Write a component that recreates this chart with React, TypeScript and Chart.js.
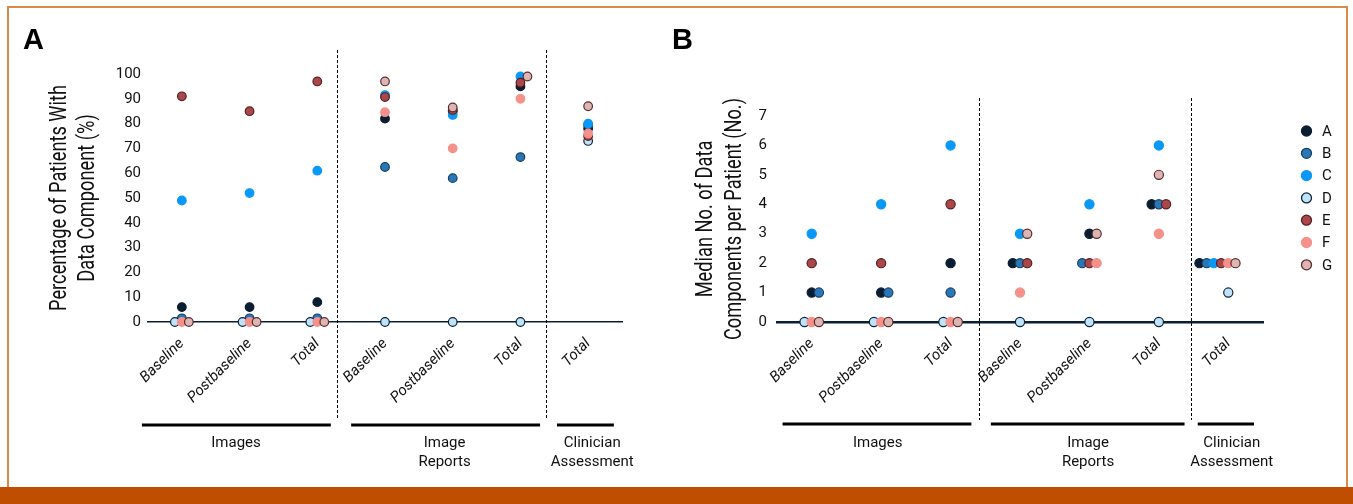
import React, { useEffect, useRef } from "react";
import { Chart, registerables } from "chart.js";

Chart.register(...registerables);

// ---------- data ----------
const categories = ["Baseline", "Postbaseline", "Total", "Baseline", "Postbaseline", "Total", "Total"];
const seriesNames = ["A", "B", "C", "D", "E", "F", "G"];

// Panel A: percentage of patients with data component (%)
const percentA = [6, 6, 8, 82, 85, 95, 78];
const percentB = [1.5, 1.5, 1.5, 62.5, 58, 66.5, 79.5];
const percentC = [49, 52, 61, 91.5, 83.5, 99, 80];
const percentD = [0, 0, 0, 0, 0, 0, 73];
const percentE = [91, 85, 97, 90.7, 85.5, 96.5, 75];
const percentF = [0, 0, 0, 84.6, 70, 90, 76];
const percentG = [0, 0, 0, 97, 86.5, 99, 87];

// Panel B: median number of data components per patient
const medianA = [1, 1, 2, 2, 3, 4, 2];
const medianB = [1, 1, 1, 2, 2, 4, 2];
const medianC = [3, 4, 6, 3, 4, 6, 2];
const medianD = [0, 0, 0, 0, 0, 0, 1];
const medianE = [2, 2, 4, 2, 2, 4, 2];
const medianF = [0, 0, 0, 1, 2, 3, 2];
const medianG = [0, 0, 0, 3, 3, 5, 2];

const percentTicks = [0, 10, 20, 30, 40, 50, 60, 70, 80, 90, 100];
const medianTicks = [0, 1, 2, 3, 4, 5, 6, 7];

const groupLabels = [["Images"], ["Image", "Reports"], ["Clinician", "Assessment"]];
const yTitleA = ["Percentage of Patients With", "Data Component (%)"];
const yTitleB = ["Median No. of Data", "Components per Patient (No.)"];

// ---------- styles ----------
const fills = ["#0A1D31", "#2A77B5", "#0A98F7", "#BFE4FA", "#A9474A", "#F6908A", "#DDB6B3"];
const borders = ["#0A1D31", "#17406A", "#0A98F7", "#0D2338", "#5A1E22", "#F6908A", "#5C2B2D"];
const FONT = "Roboto, 'Liberation Sans', Arial, sans-serif";

// dodge points sharing the same value within a category
const dodgePlugin = {
  id: "dodge",
  afterDatasetsUpdate(chart: any, _args: any, opts: any) {
    const spacing = opts.spacing ?? 7;
    const n = chart.data.labels.length;
    for (let i = 0; i < n; i++) {
      const clusters = new Map<number, number[]>();
      chart.data.datasets.forEach((ds: any, di: number) => {
        const v = ds.data[i];
        if (!clusters.has(v)) clusters.set(v, []);
        clusters.get(v)!.push(di);
      });
      clusters.forEach((members) => {
        const m = members.length;
        if (m < 2) return;
        members.forEach((di, k) => {
          const el = chart.getDatasetMeta(di).data[i];
          if (el) el.x += (k - (m - 2)) * spacing;
        });
      });
    }
  },
};

const decorPlugin = {
  id: "decor",
  beforeDatasetsDraw(chart: any, _args: any, o: any) {
    const { ctx, chartArea, scales } = chart;
    const x = scales.x;
    const p0 = x.getPixelForValue(0);
    const step = x.getPixelForValue(1) - p0;
    const px = (u: number) => p0 + u * step;
    ctx.save();
    // panel letter
    ctx.fillStyle = "#000";
    ctx.font = `bold 29px 'Liberation Sans', Arial, sans-serif`;
    ctx.textAlign = "left";
    ctx.textBaseline = "alphabetic";
    ctx.fillText(o.letter, o.letterX, o.letterY);
    // y title (condensed face emulated by horizontal scaling along the text)
    ctx.font = `${o.titleSize}px ${FONT}`;
    ctx.fillStyle = "#111";
    const cy = (chartArea.top + chartArea.bottom) / 2;
    o.title.forEach((line: string, k: number) => {
      ctx.save();
      ctx.translate(o.titleX[k], cy);
      ctx.rotate(-Math.PI / 2);
      ctx.scale(o.titleSqueeze, 1);
      ctx.textAlign = "center";
      ctx.textBaseline = "alphabetic";
      ctx.fillText(line, 0, 0);
      ctx.restore();
    });
    // dashed dividers
    ctx.strokeStyle = "#000";
    ctx.lineWidth = 1;
    ctx.setLineDash([3, 2]);
    o.dividers.forEach((u: number) => {
      const xx = Math.round(px(u)) + 0.5;
      ctx.beginPath();
      ctx.moveTo(xx, o.dashTop);
      ctx.lineTo(xx, o.dashBottom);
      ctx.stroke();
    });
    ctx.setLineDash([]);
    // group brackets
    ctx.lineWidth = 3;
    o.brackets.forEach((b: number[]) => {
      ctx.beginPath();
      ctx.moveTo(px(b[0]), o.bracketY);
      ctx.lineTo(px(b[1]), o.bracketY);
      ctx.stroke();
    });
    ctx.font = `15px ${FONT}`;
    ctx.fillStyle = "#111";
    ctx.textAlign = "center";
    groupLabels.forEach((lines, g) => {
      lines.forEach((line, k) => {
        ctx.fillText(line, px(o.labelCenters[g]), o.labelY[k]);
      });
    });
    // legend
    if (o.legend) {
      const L = o.legend;
      chart.data.datasets.forEach((ds: any, i: number) => {
        const yy = L.y0 + i * L.step;
        ctx.beginPath();
        ctx.arc(L.x, yy, L.r, 0, Math.PI * 2);
        ctx.fillStyle = ds.pointBackgroundColor;
        ctx.fill();
        ctx.lineWidth = 1.3;
        ctx.strokeStyle = ds.pointBorderColor;
        ctx.stroke();
        ctx.fillStyle = "#111";
        ctx.font = `15px ${FONT}`;
        ctx.textAlign = "left";
        ctx.textBaseline = "middle";
        ctx.fillText(ds.label, L.labelX, yy + 1);
      });
    }
    ctx.restore();
  },
};

function buildConfig(p: any) {
  return {
    type: "line",
    data: {
      labels: categories,
      datasets: seriesNames.map((name, i) => ({
        label: name,
        data: p.values[i],
        showLine: false,
        pointRadius: p.radius,
        pointHoverRadius: p.radius,
        pointBorderWidth: 1.2,
        pointBackgroundColor: fills[i],
        pointBorderColor: borders[i],
        order: seriesNames.length - i,
        clip: false,
      })),
    },
    options: {
      animation: false,
      responsive: false,
      events: [],
      layout: { padding: p.padding },
      plugins: {
        legend: { display: false },
        tooltip: { enabled: false },
        dodge: { spacing: p.spacing },
        decor: p.decor,
      },
      scales: {
        x: {
          type: "category",
          offset: true,
          grid: { display: false, drawTicks: false },
          border: { display: true, color: "#0B1F33", width: p.axisWidth },
          ticks: {
            autoSkip: false,
            minRotation: 45,
            maxRotation: 45,
            padding: 13,
            color: "#111",
            font: { family: FONT, size: 15, style: "italic" },
          },
          afterFit: (s: any) => {
            s.height = 100;
          },
        },
        y: {
          min: p.ticks[0],
          max: p.ticks[p.ticks.length - 1],
          grid: { display: false, drawTicks: false },
          border: { display: false },
          ticks: {
            padding: p.tickPad,
            color: "#111",
            font: { family: FONT, size: 15 },
          },
          afterBuildTicks: (s: any) => {
            s.ticks = p.ticks.map((v: number) => ({ value: v }));
          },
          afterFit: (s: any) => {
            s.width = p.yWidth;
          },
        },
      },
    },
    plugins: [dodgePlugin, decorPlugin],
  };
}

function ChartCanvas({ config, width, height, left }: any) {
  const ref = useRef<HTMLCanvasElement>(null);
  useEffect(() => {
    if (!ref.current) return;
    const chart = new Chart(ref.current, config);
    return () => chart.destroy();
  }, []);
  return (
    <canvas
      ref={ref}
      width={width}
      height={height}
      style={{ position: "absolute", left, top: 0, width, height }}
    />
  );
}

const configA = buildConfig({
  values: [percentA, percentB, percentC, percentD, percentE, percentF, percentG],
  ticks: percentTicks,
  radius: 4.3,
  spacing: 7,
  axisWidth: 1.5,
  tickPad: 7,
  yWidth: 148,
  padding: { left: 0, top: 74, right: 38, bottom: 65 },
  decor: {
    letter: "A",
    letterX: 23,
    letterY: 49,
    title: yTitleA,
    titleSize: 24,
    titleSqueeze: 0.76,
    titleX: [66, 94],
    dividers: [2.29, 5.38],
    dashTop: 50,
    dashBottom: 420,
    brackets: [
      [-0.59, 2.2],
      [2.5, 5.29],
      [5.54, 6.38],
    ],
    labelCenters: [0.8, 3.88, 6.06],
    bracketY: 425,
    labelY: [447, 466],
  },
});

const configB = buildConfig({
  values: [medianA, medianB, medianC, medianD, medianE, medianF, medianG],
  ticks: medianTicks,
  radius: 4.6,
  spacing: 7.2,
  axisWidth: 2.5,
  tickPad: 10,
  yWidth: 117,
  padding: { left: 0, top: 116, right: 90, bottom: 65 },
  decor: {
    letter: "B",
    letterX: 12,
    letterY: 49,
    title: yTitleB,
    titleSize: 24,
    titleSqueeze: 0.76,
    titleX: [52, 81],
    dividers: [2.41, 5.46],
    dashTop: 98,
    dashBottom: 420,
    brackets: [
      [-0.42, 2.3],
      [2.58, 5.37],
      [5.56, 6.37],
    ],
    labelCenters: [0.95, 3.98, 6.05],
    bracketY: 424,
    labelY: [447, 466],
    legend: { x: 646.5, labelX: 662, y0: 131, step: 22.3, r: 5 },
  },
});

export default function App() {
  return (
    <div style={{ position: "absolute", left: 0, top: 0, width: 1353, height: 504, background: "#fff", overflow: "hidden" }}>
      <div
        style={{
          position: "absolute",
          left: 7,
          top: 6,
          width: 1341,
          height: 484,
          border: "2px solid #DA8A48",
          boxSizing: "border-box",
        }}
      />
      <div style={{ position: "absolute", left: 0, top: 487, width: 1353, height: 17, background: "#BF4E00" }} />
      <ChartCanvas config={configA} width={660} height={487} left={0} />
      <ChartCanvas config={configB} width={693} height={487} left={660} />
    </div>
  );
}
